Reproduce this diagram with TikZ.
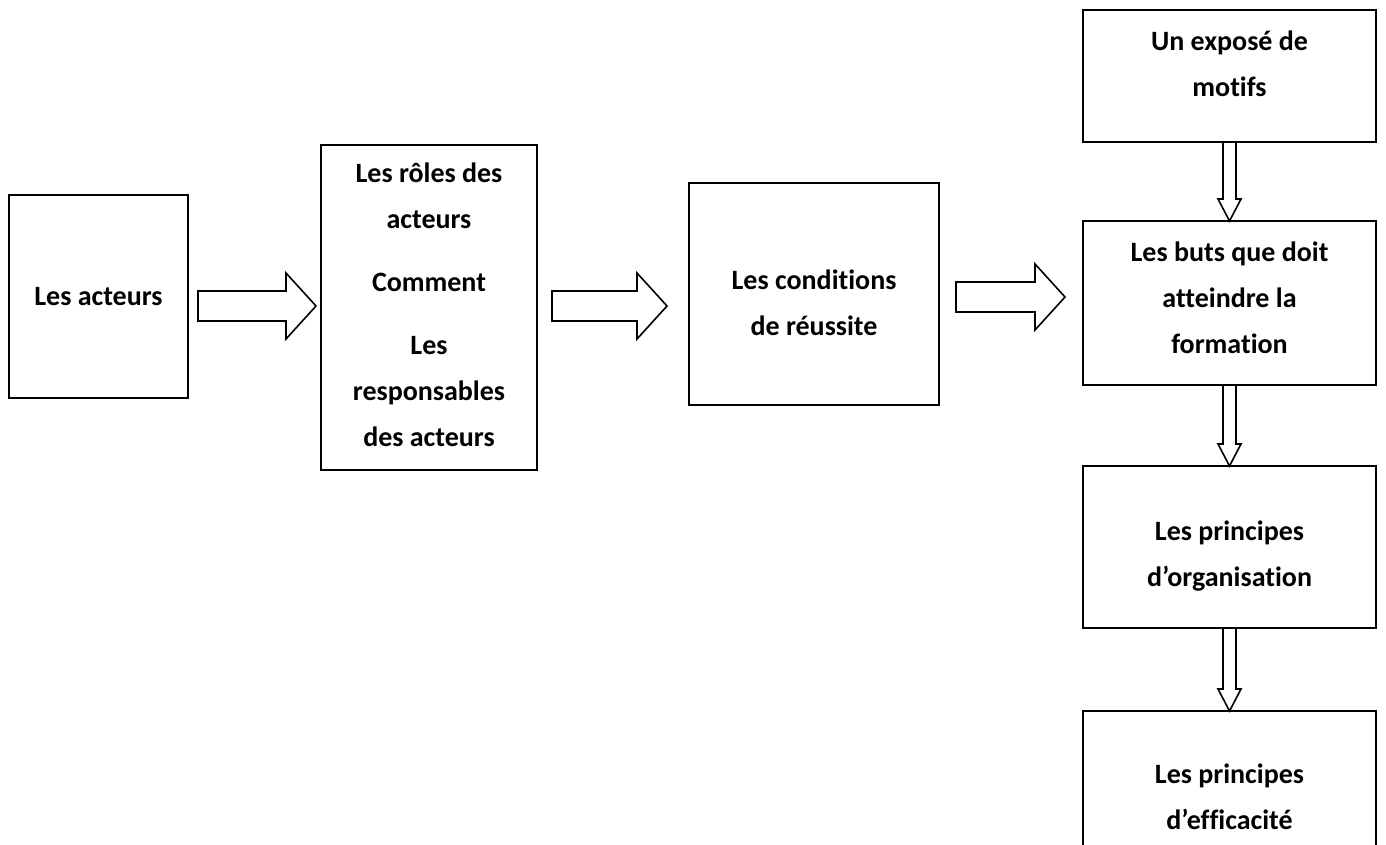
\documentclass[tikz,border=0pt]{standalone}
\usepackage{fontspec}
\setmainfont{Carlito}[Ligatures=NoCommon]
\usetikzlibrary{calc}
\tikzset{
  box/.style={draw, line width=1.3pt, rectangle, inner sep=0pt, outer sep=0pt},
  lbl/.style={font=\fontsize{28}{46}\selectfont\bfseries, align=center, inner sep=0pt},
  blk/.style={draw, line width=1.6pt, fill=white, line join=miter},
}
% hollow block arrow pointing right, from #1 to the tip #2
\newcommand\hblock[2]{%
  \draw[blk] let \p1=#1, \p2=#2 in
    (\x1,\y1+15pt) -- (\x2-30pt,\y1+15pt) -- (\x2-30pt,\y1+33pt) -- (\x2,\y1)
    -- (\x2-30pt,\y1-33pt) -- (\x2-30pt,\y1-15pt) -- (\x1,\y1-15pt) -- cycle;}
% hollow block arrow pointing down, from #1 to the tip #2
\newcommand\vblock[2]{%
  \draw[blk] let \p1=#1, \p2=#2 in
    (\x1-6.5pt,\y1) -- (\x1-6.5pt,\y2+22pt) -- (\x1-11.5pt,\y2+22pt) -- (\x1,\y2)
    -- (\x1+11.5pt,\y2+22pt) -- (\x1+6.5pt,\y2+22pt) -- (\x1+6.5pt,\y1) -- cycle;}
\begin{document}
\begin{tikzpicture}[x=1pt,y=-1pt]
  \useasboundingbox (0,0) rectangle (1386,845);
  \clip (0,0) rectangle (1386,845);

  % boxes
  \node[box, minimum width=179pt, minimum height=203pt] (b1) at (98.5,296.5) {};
  \node[box, minimum width=216pt, minimum height=325pt] (b2) at (429,307.5) {};
  \node[box, minimum width=250pt, minimum height=222pt] (b3) at (814,294) {};
  \node[box, minimum width=293pt, minimum height=132pt] (b4) at (1229.5,76) {};
  \node[box, minimum width=293pt, minimum height=164pt] (b5) at (1229.5,303) {};
  \node[box, minimum width=293pt, minimum height=162pt] (b6) at (1229.5,547) {};
  \node[box, minimum width=293pt, minimum height=144pt] (b7) at (1229.5,783) {};

  % labels
  \node[lbl] (t1) at ($(b1.center)+(0,0.5)$) {Les acteurs};
  \node[lbl] (t2) at ($(b2.center)+(0,-3)$) {Les rôles des\\acteurs\\[17pt]Comment\\[17pt]Les\\responsables\\des acteurs};
  \node[lbl] (t3) at ($(b3.center)+(0,8.5)$) {Les conditions\\de réussite};
  \node[lbl] (t4) at ($(b4.north)+(0,54)$) {Un exposé de\\motifs};
  \node[lbl] (t5) at ($(b5.north)+(0,77)$) {Les buts que doit\\atteindre la\\formation};
  \node[lbl] (t6) at ($(b6.north)+(0,90)$) {Les principes\\d’organisation};
  \node[lbl] (t7) at ($(b7.north)+(0,86)$) {Les principes\\d’efficacité};

  % horizontal block arrows
  \hblock{($(b1.east |- b2.west)+(10,-1.5)$)}{($(b2.west)+(-5,-1.5)$)}
  \hblock{($(b2.east)+(15,-1.5)$)}{($(b3.west |- b2.east)+(-22,-1.5)$)}
  \hblock{($(b3.east)+(17,3)$)}{($(b5.west |- b3.east)+(-18,3)$)}

  % vertical block arrows
  \vblock{(b4.south)}{(b5.north)}
  \vblock{(b5.south)}{(b6.north)}
  \vblock{(b6.south)}{(b7.north)}
\end{tikzpicture}
\end{document}
